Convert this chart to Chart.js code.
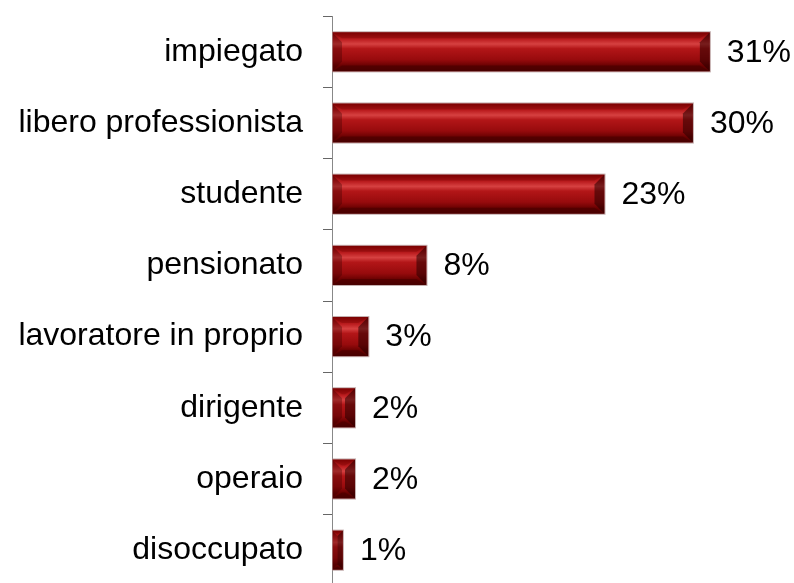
<!DOCTYPE html>
<html>
<head>
<meta charset="utf-8">
<script src="https://cdn.jsdelivr.net/npm/chart.js@4"></script>
<style>
  html, body { margin: 0; padding: 0; background: #fff; overflow: hidden; }
  #wrap { width: 794px; height: 648px; margin-top: -23px; }
</style>
</head>
<body>
<div id="wrap"><canvas id="occupazioneChart" width="794" height="648"></canvas></div>
<script>
const categories = ['impiegato', 'libero professionista', 'studente', 'pensionato',
    'lavoratore in proprio', 'dirigente', 'operaio', 'disoccupato'];
const percentages = [31.2, 29.8, 22.5, 7.8, 3.0, 1.9, 1.9, 0.9];

const FONT = '"Liberation Sans", Arial, Helvetica, sans-serif';

// draws the bevel on every bar, using the bar elements placed by Chart.js
const bevelPlugin = {
    id: 'bevel',
    afterDatasetsDraw(chart) {
        const ctx = chart.ctx;
        chart.getDatasetMeta(0).data.forEach(function(el) {
            const p = el.getProps(['x', 'y', 'base', 'height'], true);
            const l = Math.min(p.base, p.x), r = Math.max(p.base, p.x);
            const t = p.y - p.height / 2, b = p.y + p.height / 2;
            const bv = Math.min(10, (r - l) / 2, p.height / 2);

            ctx.save();
            const g = ctx.createLinearGradient(0, t, 0, b);
            g.addColorStop(0, 'rgba(120,0,0,0.9)');
            g.addColorStop(0.18, 'rgba(190,30,32,0.9)');
            g.addColorStop(0.3, 'rgba(220,70,70,0.9)');
            g.addColorStop(0.42, 'rgba(180,22,24,0.9)');
            g.addColorStop(0.7, 'rgba(150,10,12,0.9)');
            g.addColorStop(0.86, 'rgba(100,0,0,0.95)');
            g.addColorStop(1, 'rgba(80,0,0,0.95)');
            ctx.fillStyle = g;
            ctx.fillRect(l, t, r - l, b - t);

            // left bevel
            ctx.fillStyle = 'rgba(60,0,0,0.35)';
            ctx.beginPath();
            ctx.moveTo(l, t); ctx.lineTo(l + bv, t + bv); ctx.lineTo(l + bv, b - bv); ctx.lineTo(l, b);
            ctx.closePath(); ctx.fill();
            // right bevel
            ctx.fillStyle = 'rgba(40,0,0,0.55)';
            ctx.beginPath();
            ctx.moveTo(r, t); ctx.lineTo(r - bv, t + bv); ctx.lineTo(r - bv, b - bv); ctx.lineTo(r, b);
            ctx.closePath(); ctx.fill();
            // top bevel
            ctx.fillStyle = 'rgba(120,0,0,0.35)';
            ctx.beginPath();
            ctx.moveTo(l, t); ctx.lineTo(r, t); ctx.lineTo(r - bv, t + bv * 0.6); ctx.lineTo(l + bv, t + bv * 0.6);
            ctx.closePath(); ctx.fill();
            // bottom bevel
            ctx.fillStyle = 'rgba(50,0,0,0.35)';
            ctx.beginPath();
            ctx.moveTo(l, b); ctx.lineTo(r, b); ctx.lineTo(r - bv, b - bv * 0.6); ctx.lineTo(l + bv, b - bv * 0.6);
            ctx.closePath(); ctx.fill();

            ctx.strokeStyle = 'rgba(170,140,140,0.7)';
            ctx.lineWidth = 1;
            ctx.strokeRect(l + 0.5, t - 0.5, r - l, b - t + 1);
            ctx.restore();
        });
    }
};

// value labels to the right of the bars
const valueLabels = {
    id: 'valueLabels',
    afterDatasetsDraw(chart) {
        const ctx = chart.ctx;
        ctx.save();
        ctx.font = '32px ' + FONT;
        ctx.fillStyle = '#000';
        ctx.textAlign = 'left';
        ctx.textBaseline = 'middle';
        chart.getDatasetMeta(0).data.forEach(function(el, i) {
            ctx.fillText(Math.round(percentages[i]) + '%', el.x + 17, el.y + 1);
        });
        ctx.restore();
    }
};

new Chart(document.getElementById('occupazioneChart'), {
    type: 'bar',
    data: {
        labels: categories,
        datasets: [{
            data: percentages,
            backgroundColor: '#a31214',
            borderWidth: 0,
            barPercentage: 0.55,
            categoryPercentage: 1
        }]
    },
    options: {
        indexAxis: 'y',
        responsive: false,
        animation: false,
        layout: { padding: { top: 15, bottom: 3, right: 26, left: 0 } },
        plugins: {
            legend: { display: false },
            tooltip: { enabled: false }
        },
        scales: {
            x: {
                display: false,
                min: 0,
                max: 36
            },
            y: {
                afterFit: function(scale) { scale.width = 332; },
                border: { display: true, color: '#888', width: 1 },
                grid: {
                    drawOnChartArea: false,
                    drawTicks: true,
                    tickLength: 9,
                    color: '#666',
                    offset: true
                },
                ticks: {
                    color: '#000',
                    padding: 20,
                    font: { family: FONT, size: 32 }
                }
            }
        }
    },
    plugins: [bevelPlugin, valueLabels]
});
</script>
</body>
</html>
